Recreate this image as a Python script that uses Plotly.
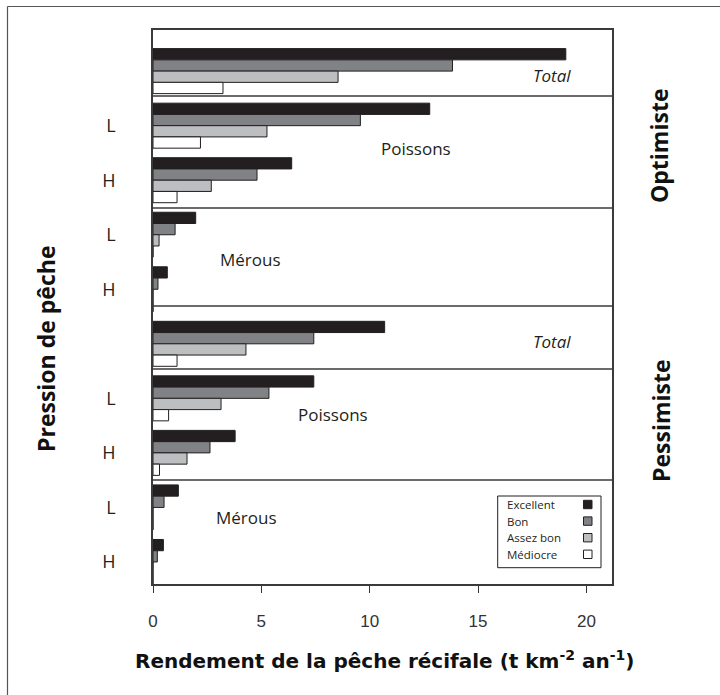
import plotly.graph_objects as go

# ---- data ----
rows = ["Opt Total", "Opt Poissons L", "Opt Poissons H", "Opt Mérous L", "Opt Mérous H",
        "Pess Total", "Pess Poissons L", "Pess Poissons H", "Pess Mérous L", "Pess Mérous H"]
row_ticks = ["", "L", "H", "L", "H", "", "L", "H", "L", "H"]

excellent = [19.05, 12.77, 6.40, 1.97, 0.66, 10.69, 7.42, 3.79, 1.17, 0.48]
bon       = [13.82, 9.57, 4.80, 1.02, 0.23, 7.42, 5.35, 2.63, 0.51, 0.20]
assez_bon = [8.54, 5.26, 2.69, 0.28, 0.0, 4.29, 3.14, 1.57, 0.0, 0.0]
mediocre  = [3.23, 2.19, 1.11, 0.0, 0.0, 1.11, 0.72, 0.30, 0.0, 0.0]

series_names = ["Excellent", "Bon", "Assez bon", "Médiocre"]
series_vals = [excellent, bon, assez_bon, mediocre]
series_colors = ["#231f20", "#808285", "#bcbec0", "#ffffff"]

x_ticks = [0, 5, 10, 15, 20]

# ---- figure ----
W, H = 720, 695
ML, MR, MT, MB = 153, 108, 30, 111
PW, PH = W - ML - MR, H - MT - MB

def px(x):
    return (x - ML) / PW

def py(y):
    return (H - MB - y) / PH

fig = go.Figure()
for name, vals, col in zip(series_names, series_vals, series_colors):
    fig.add_trace(go.Bar(
        y=rows, x=vals, name=name, orientation="h",
        marker=dict(color=col, line=dict(color="#231f20", width=1)),
        hoverinfo="x+name", showlegend=False,
    ))

shapes = []
# panel separators
for yy in [96, 208, 306, 369, 480]:
    shapes.append(dict(type="line", xref="paper", yref="paper", x0=0, x1=1,
                       y0=py(yy), y1=py(yy), line=dict(color="#3a3a3a", width=1.5)))
# outer frame (top and left edges only are visible)
shapes.append(dict(type="line", xref="paper", yref="paper",
                   x0=px(7.5), x1=px(720), y0=py(6.5), y1=py(6.5),
                   line=dict(color="#555555", width=1.2), layer="below"))
shapes.append(dict(type="line", xref="paper", yref="paper",
                   x0=px(7.5), x1=px(7.5), y0=py(6.5), y1=py(695),
                   line=dict(color="#555555", width=1.2), layer="below"))

ann_font = dict(family="Open Sans, sans-serif", size=17, color="#231f20")
ital_font = dict(family="Open Sans, sans-serif", size=17, color="#231f20", style="italic")
bold_font = dict(family="Open Sans, sans-serif", size=23, color="#111", weight="bold")
annotations = [
    dict(text="Total", x=px(552), y=py(75), font=ital_font),
    dict(text="Total", x=px(552), y=py(341.7), font=ital_font),
    dict(text="Poissons", x=px(416), y=py(148), font=ann_font),
    dict(text="Poissons", x=px(333), y=py(414), font=ann_font),
    dict(text="Mérous", x=px(250.5), y=py(259), font=ann_font),
    dict(text="Mérous", x=px(246), y=py(517.7), font=ann_font),
    dict(text="Optimiste", x=px(659), y=py(146), textangle=-90, font=bold_font),
    dict(text="Pessimiste", x=px(661), y=py(421), textangle=-90, font=bold_font),
    dict(text="Pression de pêche", x=px(46), y=py(349), textangle=-90, font=bold_font),
    dict(text="Rendement de la pêche récifale (t km<sup>-2</sup> an<sup>-1</sup>)",
         x=px(384), y=py(660),
         font=dict(family="DejaVu Sans, sans-serif", size=20, color="#111", weight="bold")),
]

# custom legend: text on the left, swatch on the right (as in the reference)
leg_x0, leg_x1, leg_y0, leg_y1 = 497.7, 601, 496, 567.7
shapes.append(dict(type="rect", xref="paper", yref="paper",
                   x0=px(leg_x0), x1=px(leg_x1), y0=py(leg_y1), y1=py(leg_y0),
                   line=dict(color="#231f20", width=1), fillcolor="white", layer="above"))
for i, (name, col) in enumerate(zip(series_names, series_colors)):
    yc = 504.5 + i * 16.6
    annotations.append(dict(text=name, x=px(505), y=py(yc), xanchor="left",
                            font=dict(family="Open Sans, sans-serif", size=11.5, color="#231f20")))
    shapes.append(dict(type="rect", xref="paper", yref="paper",
                       x0=px(583.5), x1=px(592), y0=py(yc + 4.2), y1=py(yc - 4.2),
                       line=dict(color="#231f20", width=1), fillcolor=col, layer="above"))

for a in annotations:
    a.setdefault("xanchor", "center")
    a.update(xref="paper", yref="paper", showarrow=False, yanchor="middle")

fig.update_layout(
    width=W, height=H,
    margin=dict(l=ML, r=MR, t=MT, b=MB),
    paper_bgcolor="white", plot_bgcolor="white",
    barmode="group", bargap=0.175, bargroupgap=0,
    shapes=shapes, annotations=annotations,
    showlegend=False,
)
lab_vals = [r for r, t in zip(rows, row_ticks) if t]
lab_text = [t for t in row_ticks if t]
fig.update_xaxes(range=[0, PW / 21.67], tickvals=x_ticks, ticks="outside", ticklen=7,
                 tickcolor="#333", tickwidth=1.2, showgrid=False, zeroline=False,
                 showline=True, linecolor="#3a3a3a", linewidth=1.5, mirror=True,
                 ticklabelstandoff=14,
                 tickfont=dict(family="Liberation Sans Narrow, Liberation Sans, sans-serif",
                               size=17, color="#333"))
fig.update_yaxes(type="category", categoryorder="array", categoryarray=rows,
                 range=[9.404, -0.754], tickvals=lab_vals, ticktext=lab_text,
                 ticks="", showgrid=False, zeroline=False,
                 showline=True, linecolor="#3a3a3a", linewidth=1.5, mirror=True,
                 ticklabelstandoff=32,
                 tickfont=dict(family="Open Sans, sans-serif", size=18, color="#231f20"))

fig.write_html("out.html")
